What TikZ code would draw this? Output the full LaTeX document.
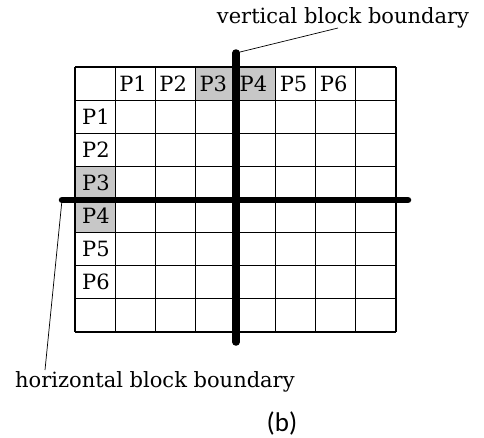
\documentclass[tikz,border=0pt]{standalone}
\usepackage{fontspec}
\setmainfont{DejaVu Serif}
\newfontfamily\capfont{Carlito}
\begin{document}
\begin{tikzpicture}[x=1pt,y=-1pt,
  gridline/.style={line width=1.1pt,black},
  shade/.style={fill=black!22},
  cellname/.style={anchor=west,inner sep=0pt,font=\fontsize{21}{24}\selectfont},
  boundary/.style={line width=7.5pt,line cap=round,black},
  leader/.style={line width=0.7pt,black},
  caption/.style={inner sep=0pt,font=\fontsize{21}{24}\selectfont}]
\useasboundingbox (0,0) rectangle (484,437);
\def\xo{75}\def\yo{67}\def\cw{40.125}\def\rh{33.125}
% shaded cells
\fill[shade] (\xo+3*\cw,\yo) rectangle (\xo+5*\cw,\yo+\rh);
\fill[shade] (\xo,\yo+3*\rh) rectangle (\xo+\cw,\yo+5*\rh);
% grid
\foreach \i in {0,...,8}{
  \draw[gridline] (\xo+\i*\cw,\yo) -- (\xo+\i*\cw,\yo+8*\rh);
  \draw[gridline] (\xo,\yo+\i*\rh) -- (\xo+8*\cw,\yo+\i*\rh);
}
% labels
\foreach \k in {1,...,6}{
  \node[cellname] (c\k) at (\xo+\k*\cw+4,\yo+0.5*\rh) {P\k};
  \node[cellname] (r\k) at (\xo+7,\yo+\k*\rh+0.5*\rh) {P\k};
}
% block boundaries
\coordinate (vtop) at (236,53);
\coordinate (vbot) at (236,342);
\coordinate (hleft) at (62,200);
\coordinate (hright) at (408,200);
\draw[boundary] (vtop) -- (vbot);
\draw[boundary,line width=6.5pt] (hleft) -- (hright);
% captions
\node[caption,anchor=south] (vlab) at (343,28) {vertical block boundary};
\node[caption,anchor=west] (hlab) at (15,382) {horizontal block boundary};
\node[inner sep=0pt,font=\capfont\fontsize{27}{30}\selectfont] (b) at (282,423) {(b)};
\draw[leader] (vtop) -- (338,28);
\draw[leader] (hleft) -- (45,370);
\end{tikzpicture}
\end{document}
